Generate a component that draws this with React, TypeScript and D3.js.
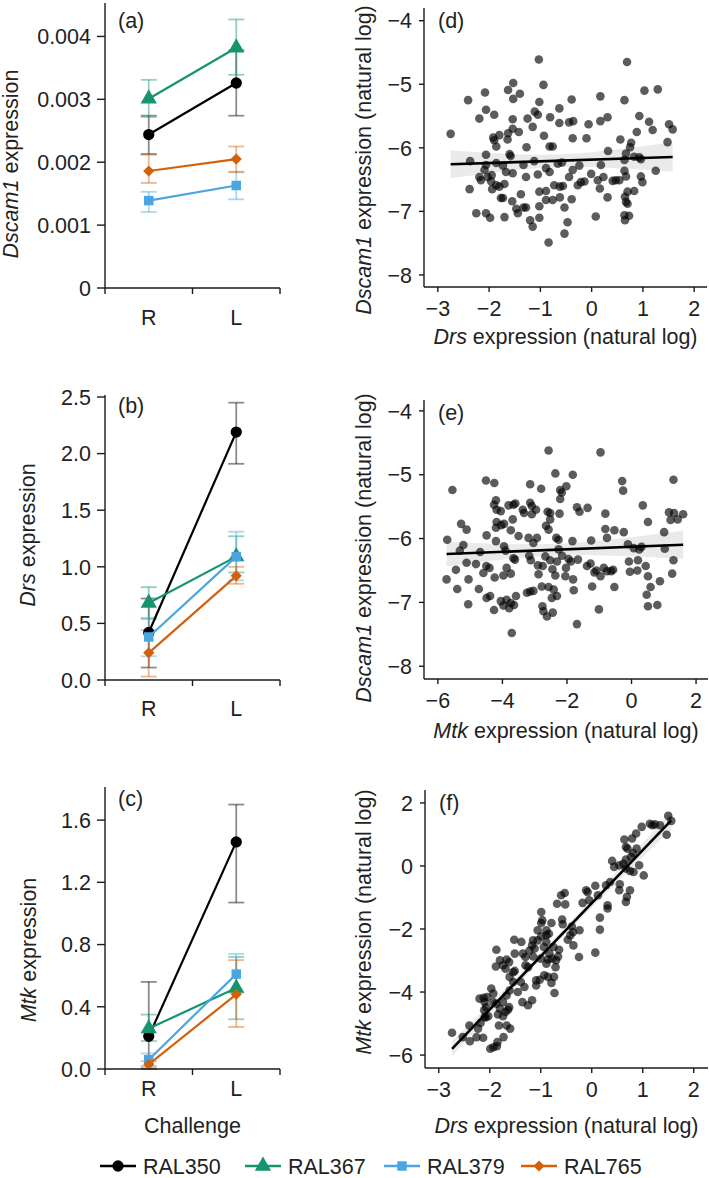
import React from "react";
import * as d3 from "d3";

// ---- line panels (a-c) ----
const categories = ["R", "L"];
const strains = ["RAL350", "RAL367", "RAL379", "RAL765"];
const strainColors = ["#000000", "#16946f", "#4ba6e0", "#d5600a"];

// mean, lower and upper bars per strain, [R, L]
const dscamMean = [[0.00244, 0.00326], [0.00301, 0.00382], [0.00139, 0.00163], [0.00186, 0.00205]];
const dscamLow = [[0.00213, 0.00274], [0.00272, 0.00339], [0.00121, 0.00141], [0.00167, 0.00184]];
const dscamHigh = [[0.00274, 0.00378], [0.00331, 0.00427], [0.00153, 0.00185], [0.00212, 0.00225]];
const dscamTicks = [0, 0.001, 0.002, 0.003, 0.004];

const drsMean = [[0.42, 2.19], [0.68, 1.09], [0.38, 1.09], [0.24, 0.92]];
const drsLow = [[0.11, 1.91], [0.54, 0.95], [0.21, 0.88], [0.03, 0.85]];
const drsHigh = [[0.72, 2.45], [0.82, 1.27], [0.55, 1.31], [0.44, 1.0]];
const drsTicks = [0, 0.5, 1.0, 1.5, 2.0, 2.5];

const mtkMean = [[0.21, 1.46], [0.26, 0.52], [0.06, 0.61], [0.03, 0.48]];
const mtkLow = [[0.0, 1.07], [0.18, 0.32], [0.02, 0.49], [0.01, 0.27]];
const mtkHigh = [[0.56, 1.70], [0.35, 0.72], [0.10, 0.74], [0.05, 0.70]];
const mtkTicks = [0, 0.4, 0.8, 1.2, 1.6];

// ---- scatter panels (d-f) ----
// (d) x = Drs, y = Dscam1 (natural log)
const drsDscam: [number, number][] = [
  [-1.03,-4.61],[0.69,-4.65],[-0.94,-5.01],[-1.53,-4.98],[-1.63,-5.09],[-2.08,-5.13],[-2.41,-5.25],[-1.53,-5.23],[-1.40,-5.15],[-1.02,-5.28],[-0.39,-5.24],[0.17,-5.19],[0.64,-5.25],[1.03,-5.10],[1.29,-5.08],
  [-2.06,-5.40],[-2.19,-5.54],[-1.90,-5.48],[-1.11,-5.43],[-1.05,-5.48],[-0.63,-5.38],[-1.25,-5.54],[-0.81,-5.52],[-1.54,-5.55],[0.31,-5.52],[0.17,-5.58],[0.93,-5.50],[1.12,-5.59],
  [-2.75,-5.78],[-1.54,-5.70],[-1.15,-5.67],[-1.42,-5.75],[-1.63,-5.77],[-0.63,-5.61],[-0.44,-5.60],[-0.36,-5.58],[-0.06,-5.63],[-0.37,-5.85],[-0.10,-5.85],[0.88,-5.75],[1.19,-5.72],[1.51,-5.63],[1.58,-5.71],[-0.93,-5.81],[-1.92,-5.84],[-1.80,-5.80],[-1.90,-5.88],
  [-1.86,-5.98],[-1.64,-5.87],[-0.82,-5.98],[-0.76,-5.98],[-1.27,-5.99],[0.56,-5.87],[0.77,-5.92],[0.75,-5.99],[1.48,-5.91],[0.32,-6.05],[-2.06,-6.11],[-1.60,-6.10],[-1.58,-6.13],[0.67,-6.09],[0.83,-6.14],[0.93,-6.15],
  [-2.37,-6.21],[-2.06,-6.27],[-1.86,-6.24],[-1.73,-6.28],[-1.33,-6.27],[-1.12,-6.21],[-0.66,-6.25],[-0.89,-6.32],[-0.58,-6.23],[-0.24,-6.28],[0.18,-6.27],[0.64,-6.19],[0.96,-6.18],[1.25,-6.36],[-2.09,-6.35],[-2.19,-6.46],[-2.16,-6.51],[-2.03,-6.46],[-1.95,-6.43],[-1.67,-6.38],[-1.54,-6.40],[-0.82,-6.38],[-0.37,-6.35],[0.64,-6.36],
  [-1.28,-6.46],[-1.05,-6.42],[-0.44,-6.46],[-0.01,-6.41],[0.23,-6.46],[0.54,-6.51],[0.67,-6.45],[0.96,-6.45],[0.99,-6.54],[-0.14,-6.53],[-0.21,-6.54],[0.12,-6.51],[0.41,-6.52],[0.47,-6.51],[-0.73,-6.59],[-0.56,-6.60],[-0.62,-6.61],[-0.27,-6.59],[0.16,-6.64],[-1.96,-6.53],[-1.86,-6.59],[-2.38,-6.65],[-1.94,-6.65],[-1.70,-6.57],[-1.80,-6.61],[-1.02,-6.69],[-0.89,-6.68],[0.70,-6.69],
  [-1.77,-6.79],[-1.73,-6.79],[-1.55,-6.84],[-1.38,-6.73],[-0.89,-6.82],[-0.76,-6.82],[-0.62,-6.78],[-0.39,-6.81],[0.31,-6.78],[0.65,-6.77],[0.83,-6.68],[0.67,-6.85],[-1.47,-6.96],[-1.33,-6.94],[-1.28,-6.94],[-1.02,-6.92],[-0.53,-6.94],[-1.44,-7.03],[-2.25,-7.03],[-2.06,-7.03],[0.70,-6.88],
  [-1.98,-7.10],[-1.70,-7.09],[-1.02,-7.10],[0.08,-7.08],[0.64,-7.06],[0.73,-7.07],[0.65,-7.14],[-1.20,-7.14],[-1.15,-7.24],[-0.47,-7.17],[-0.53,-7.35],[-0.84,-7.49],
];

// (e) x = Mtk, y = Dscam1 (natural log)
const mtkDscam: [number, number][] = [
  [-2.57,-4.62],[-0.96,-4.65],
  [-5.55,-5.24],[-4.51,-5.09],[-4.25,-5.13],[-3.14,-5.15],[-2.36,-4.98],[-1.82,-5.00],[-2.80,-5.22],[-2.21,-5.24],[-2.02,-5.18],[-2.16,-5.28],[-0.29,-5.10],[-0.26,-5.25],[1.30,-5.08],
  [-4.20,-5.40],[-4.26,-5.47],[-4.18,-5.55],[-4.05,-5.57],[-3.81,-5.48],[-3.66,-5.47],[-3.60,-5.45],[-3.37,-5.55],[-3.14,-5.44],[-3.09,-5.49],[-2.96,-5.55],[-3.33,-5.60],[-3.09,-5.62],[-2.60,-5.58],[-2.52,-5.60],[-2.23,-5.61],[-2.21,-5.38],[-1.69,-5.51],[-1.61,-5.58],[-1.36,-5.52],[-0.81,-5.61],[0.35,-5.48],[0.51,-5.74],[1.16,-5.59],[1.32,-5.60],[1.43,-5.70],[1.60,-5.62],[1.21,-5.71],
  [-5.28,-5.77],[-5.11,-5.86],[-4.49,-5.95],[-4.18,-5.74],[-4.20,-5.83],[-4.04,-5.79],[-3.95,-5.77],[-3.68,-5.70],[-3.74,-5.87],[-3.50,-5.96],[-3.19,-5.99],[-2.93,-5.99],[-3.04,-6.07],[-2.65,-5.80],[-2.57,-5.86],[-2.52,-5.70],[-2.33,-5.99],[-2.26,-6.02],[-1.83,-6.04],[-1.25,-6.03],[-0.81,-5.85],[-0.76,-5.99],[-0.53,-5.87],[-0.24,-5.90],[-0.11,-6.09],[0.07,-6.15],[0.31,-6.13],[1.01,-5.90],[1.03,-6.16],[-5.71,-6.02],[-5.21,-6.10],[-5.32,-6.19],[-4.20,-6.04],[-3.95,-6.12],[-3.90,-6.19],[-3.66,-6.31],[-3.61,-6.33],
  [-4.69,-6.21],[-5.44,-6.49],[-5.73,-6.64],[-5.11,-6.38],[-5.05,-6.64],[-4.82,-6.40],[-4.59,-6.54],[-4.50,-6.43],[-4.40,-6.46],[-4.24,-6.61],[-3.97,-6.58],[-3.87,-6.46],[-3.74,-6.55],[-3.17,-6.27],[-3.12,-6.34],[-2.90,-6.42],[-2.88,-6.56],[-2.75,-6.43],[-2.67,-6.28],[-2.52,-6.34],[-2.45,-6.48],[-2.31,-6.36],[-2.36,-6.58],[-2.26,-6.17],[-2.15,-6.27],[-2.03,-6.46],[-1.95,-6.32],[-1.88,-6.36],[-2.05,-6.59],[-1.66,-6.33],[-1.38,-6.43],[-1.27,-6.39],[-1.15,-6.53],[-1.09,-6.50],[-0.96,-6.59],[-0.86,-6.46],[-0.76,-6.51],[-0.63,-6.51],[-0.57,-6.49],[-0.53,-6.76],[-0.08,-6.36],[-0.05,-6.52],[0.20,-6.34],[0.18,-6.50],[0.44,-6.43],[0.24,-6.17],[0.51,-6.59],[0.88,-6.67],[1.26,-6.55],[1.30,-6.34],[-1.22,-6.75],[-1.79,-6.81],[-1.81,-6.64],
  [-5.40,-6.79],[-5.06,-7.03],[-4.73,-6.79],[-4.49,-6.93],[-4.38,-6.90],[-4.26,-7.12],[-4.05,-6.98],[-3.97,-7.05],[-3.87,-6.96],[-3.79,-7.09],[-3.74,-7.01],[-3.64,-7.04],[-3.58,-6.90],[-3.04,-6.82],[-2.78,-6.75],[-2.57,-6.76],[-2.41,-6.80],[-2.47,-6.93],[-2.31,-6.90],[-3.24,-6.85],[-3.14,-6.83],[-2.76,-7.06],[-2.73,-7.14],[-2.62,-7.22],[-2.44,-7.16],[-1.01,-7.11],[0.51,-7.06],[0.80,-7.04],[0.47,-6.88],[0.59,-6.76],
  [-3.71,-7.48],[-1.69,-7.34],
];

// (f) x = Drs, y = Mtk (natural log)
const drsMtk: [number, number][] = [
  [1.50,1.59],[1.56,1.43],[1.47,0.99],[1.34,1.29],[1.24,1.32],[1.19,1.29],[1.14,1.34],[0.98,1.24],[0.87,1.03],[0.79,0.87],[0.64,0.84],[0.88,0.55],[0.70,0.55],[0.81,0.41],[0.77,0.29],[0.67,0.20],[0.67,0.60],[0.62,0.07],[0.93,0.02],[1.02,-0.30],[0.82,-0.19],[0.75,-0.16],[0.67,-0.08],[0.44,-0.03],[0.40,0.16],[0.54,0.02],[0.36,-0.51],[0.55,-0.58],[0.54,-0.77],[0.69,-0.98],[0.67,-1.14],[0.75,-0.77],[0.28,-0.61],
  [0.07,-0.63],[-0.11,-0.77],[-0.18,-1.17],[0.12,-0.93],[0.16,-1.64],[0.16,-2.02],[0.31,-1.25],[0.31,-1.35],[-0.05,-1.09],[-0.08,-0.83],[0.07,-2.75],[-0.53,-0.86],[-0.60,-0.93],[-0.68,-1.20],[-0.52,-1.22],[-0.58,-1.70],[-0.79,-1.81],[-0.57,-1.85],[-0.39,-1.92],[-0.37,-2.10],[-0.42,-2.20],[-0.24,-2.04],[-0.36,-2.52],[-0.25,-2.89],[-0.47,-2.34],[-0.64,-2.66],[-0.66,-2.87],[-0.70,-2.99],[-0.75,-2.57],[-0.84,-2.15],[-0.89,-2.04],[-0.99,-1.81],[-1.06,-2.04],[-1.06,-2.36],[-0.99,-2.23],[-0.89,-2.41],[-0.94,-2.57],[-0.83,-2.78],[-0.78,-2.94],[-0.86,-2.97],[-0.74,-3.52],[-0.71,-3.21],[-0.86,-3.52],[-0.99,-1.46],[-0.97,-1.72],[-0.89,-2.20],[-1.15,-2.36],[-1.12,-2.62],[-1.17,-2.52],[-1.22,-2.68],[-1.25,-3.21],[-1.30,-2.89],[-1.15,-2.87],[-1.30,-3.15],[-1.00,-2.94],[-0.93,-3.47],[-1.09,-3.63],[-1.02,-3.61],[-1.09,-3.79],[-0.79,-3.71],[-0.73,-4.03],[-0.89,-3.10],
  [-1.52,-2.34],[-1.38,-2.41],[-1.35,-2.78],[-1.51,-2.78],[-1.67,-2.97],[-1.62,-3.05],[-1.51,-3.33],[-1.54,-3.37],[-1.69,-3.26],[-1.74,-3.15],[-1.87,-2.66],[-1.80,-2.99],[-1.88,-3.19],[-1.61,-3.52],[-1.54,-3.68],[-1.39,-3.68],[-1.32,-3.84],[-1.45,-4.00],[-1.17,-4.26],[-1.25,-4.42],[-1.36,-4.32],[-1.61,-3.95],[-1.67,-4.11],[-1.74,-4.32],[-1.62,-4.48],[-1.69,-4.63],[-1.74,-4.77],[-1.84,-4.71],[-1.80,-4.53],[-1.87,-4.37],[-1.93,-4.05],[-1.97,-3.89],[-2.05,-4.16],[-2.10,-4.32],[-2.07,-4.48],[-2.12,-4.18],[-2.20,-4.21],[-2.11,-4.58],[-2.10,-4.79],[-2.03,-4.77],[-1.93,-4.32],[-1.82,-5.06],[-1.64,-4.56],[-1.67,-5.06],[-1.60,-5.16],[-1.73,-5.43],[-1.93,-5.75],[-1.86,-5.72],[-2.08,-4.81],[-2.18,-4.98],[-2.23,-5.16],[-2.40,-5.06],[-2.39,-5.56],[-2.26,-5.43],[-2.53,-5.43],[-2.74,-5.29],[-2.13,-5.45],[-1.85,-5.59],[-1.99,-5.80],
];

const FONT = "'Liberation Sans', Arial, Helvetica, sans-serif";
const FS = 21.5;
const AXIS = "#1a1a1a";

const symbolTypes = [d3.symbolCircle, d3.symbolTriangle, d3.symbolSquare, d3.symbolSquare];
const symbolSizes = [100, 115, 90, 62];
const symbolRotation = [0, 0, 0, 45];

function Marker({ i, x, y }: { i: number; x: number; y: number }) {
  const d = d3.symbol().type(symbolTypes[i]).size(symbolSizes[i])() as string;
  return <path d={d} transform={`translate(${x},${y}) rotate(${symbolRotation[i]})`} fill={strainColors[i]} />;
}

interface LineProps {
  means: number[][]; lows: number[][]; highs: number[][];
  yMax: number; top: number; bottom: number; ticks: number[]; fmt: (v: number) => string;
  letter: string; gene: string; titleX: number; titleCY: number; letterY: number; catY: number;
}

function LinePanel(p: LineProps) {
  const x = d3.scaleBand().domain(categories).range([105, 280]);
  const y = d3.scaleLinear().domain([0, p.yMax]).range([p.bottom, p.top]);
  const cx = (j: number) => (x(categories[j]) as number) + x.bandwidth() / 2;
  const line = d3.line<number>().x((_, j) => cx(j)).y((v) => y(v));
  const edges = [105, ...categories.map((c) => (x(c) as number) + x.bandwidth())];
  return (
    <g>
      {p.means.map((_, i) =>
        categories.map((c, j) => {
          const yl = y(p.lows[i][j]), yh = y(p.highs[i][j]), xx = cx(j);
          return (
            <g key={`e${i}${j}`} stroke={strainColors[i]} strokeOpacity={0.45} strokeWidth={1.8}>
              <line x1={xx} x2={xx} y1={yl} y2={yh} />
              <line x1={xx - 8} x2={xx + 8} y1={yl} y2={yl} />
              <line x1={xx - 8} x2={xx + 8} y1={yh} y2={yh} />
            </g>
          );
        })
      )}
      {p.means.map((m, i) => (
        <g key={`s${i}`}>
          <path d={line(m) as string} fill="none" stroke={strainColors[i]} strokeWidth={2.2} />
          {m.map((v, j) => <Marker key={j} i={i} x={cx(j)} y={y(v)} />)}
        </g>
      ))}
      <line x1={105} x2={105} y1={p.top - 2} y2={p.bottom} stroke={AXIS} strokeWidth={1.4} />
      <line x1={105} x2={280} y1={p.bottom} y2={p.bottom} stroke={AXIS} strokeWidth={1.4} />
      {edges.map((e) => (
        <line key={e} x1={e} x2={e} y1={p.bottom} y2={p.bottom + 6} stroke={AXIS} strokeWidth={1.4} />
      ))}
      {p.ticks.map((t) => (
        <g key={t}>
          <line x1={97} x2={105} y1={y(t)} y2={y(t)} stroke={AXIS} strokeWidth={1.4} />
          <text x={91} y={y(t)} dy="0.36em" textAnchor="end" fontSize={FS} fill="#222">{p.fmt(t)}</text>
        </g>
      ))}
      {categories.map((c, j) => (
        <text key={c} x={cx(j)} y={p.catY} textAnchor="middle" fontSize={FS} fill="#222">{c}</text>
      ))}
      <text x={118} y={p.letterY} fontSize={FS} fill="#222">{p.letter}</text>
      <text transform={`translate(${p.titleX},${p.titleCY}) rotate(-90)`} textAnchor="middle" fontSize={FS} fill="#222">
        <tspan fontStyle="italic">{p.gene}</tspan> expression
      </text>
    </g>
  );
}

function fitLine(points: [number, number][]) {
  const n = points.length;
  const mx = d3.mean(points, (q) => q[0]) as number;
  const my = d3.mean(points, (q) => q[1]) as number;
  const sxx = d3.sum(points, (q) => (q[0] - mx) ** 2);
  const sxy = d3.sum(points, (q) => (q[0] - mx) * (q[1] - my));
  const b = sxy / sxx, a = my - b * mx;
  const s = Math.sqrt(d3.sum(points, (q) => (q[1] - a - b * q[0]) ** 2) / (n - 2));
  const [x0, x1] = d3.extent(points, (q) => q[0]) as [number, number];
  const xs = d3.range(41).map((k) => x0 + ((x1 - x0) * k) / 40);
  const band = xs.map((xv) => {
    const se = s * Math.sqrt(1 / n + (xv - mx) ** 2 / sxx);
    return { x: xv, lo: a + b * xv - 1.97 * se, hi: a + b * xv + 1.97 * se };
  });
  return { a, b, x0, x1, band };
}

interface ScatterProps {
  points: [number, number][];
  xDomain: [number, number]; yDomain: [number, number];
  top: number; bottom: number; left: number; right: number;
  xTicks: number[]; yTicks: number[];
  letter: string; xGene: string; yGene: string; xTitleY: number; yTitleCY: number;
}

function ScatterPanel(p: ScatterProps) {
  const x = d3.scaleLinear().domain(p.xDomain).range([p.left, p.right]);
  const y = d3.scaleLinear().domain(p.yDomain).range([p.bottom, p.top]);
  const f = fitLine(p.points);
  const area = d3.area<{ x: number; lo: number; hi: number }>().x((d) => x(d.x)).y0((d) => y(d.lo)).y1((d) => y(d.hi));
  const fmt = d3.format("d");
  return (
    <g>
      <path d={area(f.band) as string} fill="#d9d9d9" fillOpacity={0.55} />
      {p.points.map((q, k) => (
        <circle key={k} cx={x(q[0])} cy={y(q[1])} r={4.3} fill="#000" fillOpacity={0.64} />
      ))}
      <line x1={x(f.x0)} x2={x(f.x1)} y1={y(f.a + f.b * f.x0)} y2={y(f.a + f.b * f.x1)} stroke="#000" strokeWidth={2.6} />
      <line x1={p.left} x2={p.left} y1={p.top} y2={p.bottom} stroke={AXIS} strokeWidth={1.4} />
      <line x1={p.left} x2={p.right} y1={p.bottom} y2={p.bottom} stroke={AXIS} strokeWidth={1.4} />
      {p.xTicks.map((t) => (
        <g key={`x${t}`}>
          <line x1={x(t)} x2={x(t)} y1={p.bottom} y2={p.bottom + 5} stroke={AXIS} strokeWidth={1.4} />
          <text x={x(t)} y={p.bottom + 29} textAnchor="middle" fontSize={FS} fill="#222">{fmt(t)}</text>
        </g>
      ))}
      {p.yTicks.map((t) => (
        <g key={`y${t}`}>
          <line x1={p.left - 5} x2={p.left} y1={y(t)} y2={y(t)} stroke={AXIS} strokeWidth={1.4} />
          <text x={p.left - 12} y={y(t)} dy="0.36em" textAnchor="end" fontSize={FS} fill="#222">{fmt(t)}</text>
        </g>
      ))}
      <text x={p.left + 14} y={p.top + 20} fontSize={FS} fill="#222">{p.letter}</text>
      <text x={(p.left + p.right) / 2} y={p.xTitleY} textAnchor="middle" fontSize={FS} fill="#222">
        <tspan fontStyle="italic">{p.xGene}</tspan> expression (natural log)
      </text>
      <text transform={`translate(371,${p.yTitleCY}) rotate(-90)`} textAnchor="middle" fontSize={FS} fill="#222">
        <tspan fontStyle="italic">{p.yGene}</tspan> expression (natural log)
      </text>
    </g>
  );
}

const legendLineX = [100, 245, 384, 521];

export default function App() {
  const f1 = (v: number) => (v === 0 ? "0" : d3.format(".3f")(v));
  const f2 = d3.format(".1f");
  return (
    <svg width={709} height={1178} style={{ position: "absolute", left: 0, top: 0, background: "#fff" }} fontFamily={FONT}>
      <LinePanel means={dscamMean} lows={dscamLow} highs={dscamHigh} yMax={0.0045} top={5} bottom={288}
        ticks={dscamTicks} fmt={f1} letter="(a)" gene="Dscam1" titleX={18} titleCY={164} letterY={28} catY={325} />
      <LinePanel means={drsMean} lows={drsLow} highs={drsHigh} yMax={2.5} top={397} bottom={680}
        ticks={drsTicks} fmt={f2} letter="(b)" gene="Drs" titleX={35} titleCY={535} letterY={413} catY={716} />
      <LinePanel means={mtkMean} lows={mtkLow} highs={mtkHigh} yMax={1.8} top={789} bottom={1069}
        ticks={mtkTicks} fmt={f2} letter="(c)" gene="Mtk" titleX={36} titleCY={950} letterY={806} catY={1096} />
      <text x={192.5} y={1133} textAnchor="middle" fontSize={FS} fill="#222">Challenge</text>

      <ScatterPanel points={drsDscam} xDomain={[-3.27, 2.25]} yDomain={[-8.19, -3.8]} left={424} right={707} top={8} bottom={287}
        xTicks={[-3, -2, -1, 0, 1, 2]} yTicks={[-8, -7, -6, -5, -4]} letter="(d)" xGene="Drs" yGene="Dscam1" xTitleY={344} yTitleCY={160} />
      <ScatterPanel points={mtkDscam} xDomain={[-6.43, 2.37]} yDomain={[-8.2, -3.83]} left={424} right={708} top={400} bottom={679}
        xTicks={[-6, -4, -2, 0, 2]} yTicks={[-8, -7, -6, -5, -4]} letter="(e)" xGene="Mtk" yGene="Dscam1" xTitleY={738} yTitleCY={548} />
      <ScatterPanel points={drsMtk} xDomain={[-3.27, 2.28]} yDomain={[-6.41, 2.41]} left={425} right={708} top={790} bottom={1068}
        xTicks={[-3, -2, -1, 0, 1, 2]} yTicks={[-6, -4, -2, 0, 2]} letter="(f)" xGene="Drs" yGene="Mtk" xTitleY={1133} yTitleCY={922} />

      {strains.map((s, i) => (
        <g key={s}>
          <line x1={legendLineX[i]} x2={legendLineX[i] + 36} y1={1166} y2={1166} stroke={strainColors[i]} strokeWidth={2.4} />
          <Marker i={i} x={legendLineX[i] + 18} y={1166} />
          <text x={legendLineX[i] + 43} y={1174} fontSize={FS} fill="#222">{s}</text>
        </g>
      ))}
    </svg>
  );
}
